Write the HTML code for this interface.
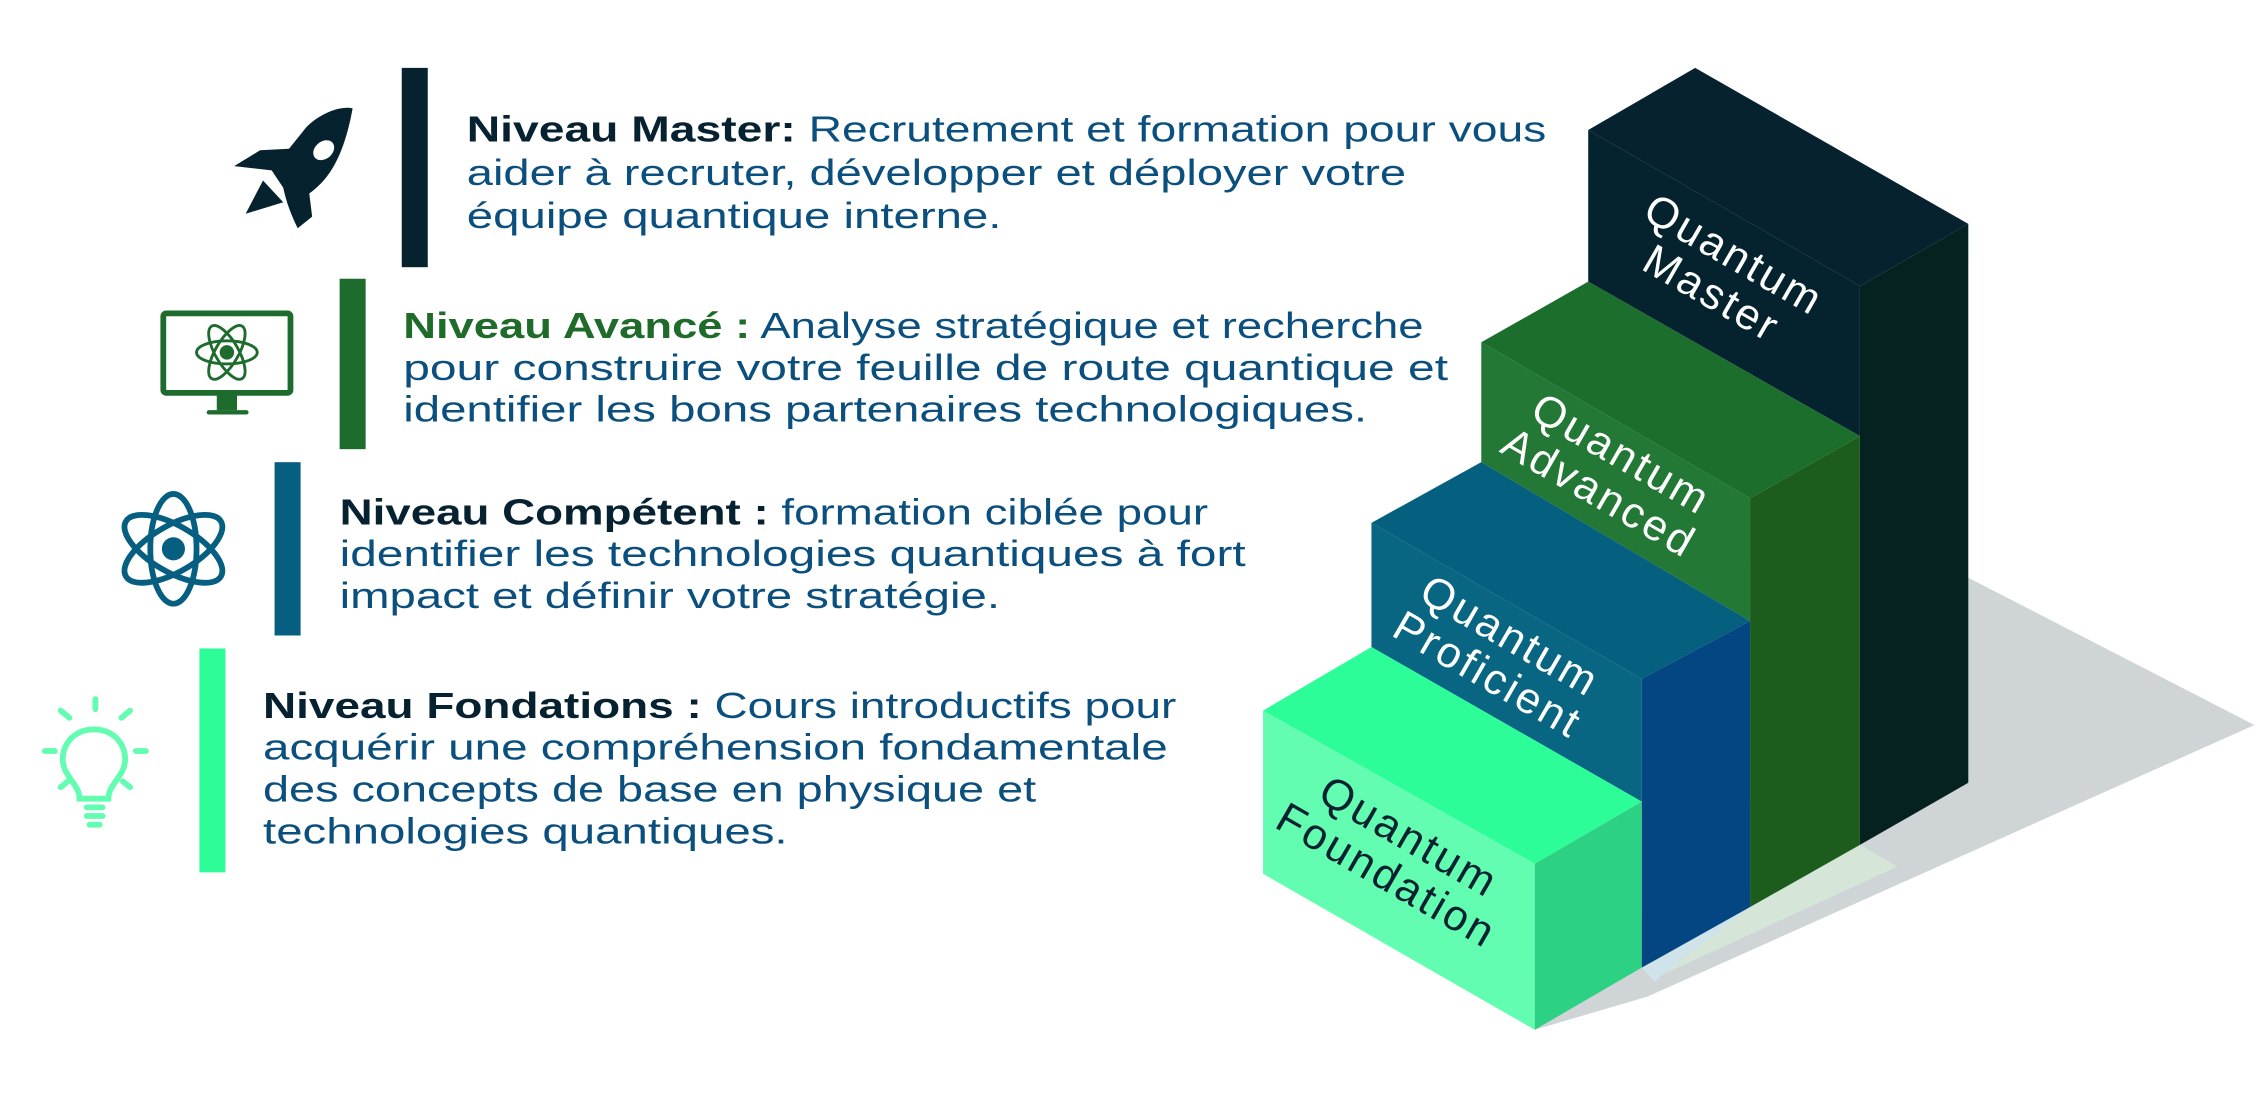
<!DOCTYPE html>
<html><head><meta charset="utf-8">
<style>
html,body{margin:0;padding:0;background:#fff;}
svg{display:block;}
text{font-family:"Liberation Sans",sans-serif;}
.b{fill:#0b4f7e;font-size:25px;}
.h{font-weight:bold;fill:#062230;}
.lbl{font-size:30px;letter-spacing:2px;}
</style></head>
<body>
<svg width="2266" height="1102" viewBox="0 0 1568 763" preserveAspectRatio="none" xmlns="http://www.w3.org/2000/svg">
<!-- shadow -->
<polygon points="1362,400 1560,502 1140,690 1062,713" fill="#cfd5d7"/>
<polygon points="1211,628 1287,585 1313,600 1150,675 1136,670" fill="#d5e6d8"/>
<polygon points="1136,670 1211,628 1150,675 1145,680" fill="#d0e2ea"/>

<!-- Master -->
<polygon points="1099,90 1173,47 1362,155 1287,198" fill="#06222f"/>
<polygon points="1099,90 1287,198 1287,302 1099,195" fill="#05232f"/>
<polygon points="1287,198 1362,155 1362,542 1287,585" fill="#062220"/>
<!-- Advanced -->
<polygon points="1025,237 1099,195 1287,302 1211,345" fill="#1c6e2c"/>
<polygon points="1025,237 1211,345 1211,430 1025,320" fill="#227834"/>
<polygon points="1211,345 1287,302 1287,585 1211,628" fill="#1c5c1c"/>
<!-- Proficient -->
<polygon points="949,362 1025,320 1211,430 1136,470" fill="#055f7e"/>
<polygon points="949,362 1136,470 1136,555 949,448" fill="#086682"/>
<polygon points="1136,470 1211,430 1211,628 1136,670" fill="#034682"/>
<!-- Foundation -->
<polygon points="874,492 949,448 1136,555 1062,598" fill="#2cfd98"/>
<polygon points="874,492 1062,598 1062,713 874,605" fill="#62fdb0"/>
<polygon points="1062,598 1136,555 1136,670 1062,713" fill="#2dd184"/>

<!-- block labels -->
<g class="lbl" fill="#fff" text-anchor="middle">
<g transform="translate(1195,185) rotate(30)"><text x="0" y="0">Quantum</text><text x="0" y="31">Master</text></g>
<g transform="translate(1117,323) rotate(30)"><text x="0" y="0">Quantum</text><text x="0" y="31">Advanced</text></g>
<g transform="translate(1040,449) rotate(30)"><text x="0" y="0">Quantum</text><text x="0" y="31">Proficient</text></g>
<g transform="translate(970,588) rotate(30)" fill="#062230"><text x="0" y="0">Quantum</text><text x="0" y="31">Foundation</text></g>
</g>

<!-- bars -->
<rect x="278" y="47" width="18" height="138" fill="#06222f"/>
<rect x="235" y="193" width="18" height="118" fill="#1e6b2e"/>
<rect x="190" y="320" width="18" height="120" fill="#065f80"/>
<rect x="138" y="449" width="18" height="155" fill="#2cfd98"/>

<!-- text -->
<text class="b" x="323" y="98" textLength="747" lengthAdjust="spacingAndGlyphs"><tspan class="h">Niveau Master:</tspan> Recrutement et formation pour vous</text>
<text class="b" x="323" y="128" textLength="650" lengthAdjust="spacingAndGlyphs">aider à recruter, développer et déployer votre</text>
<text class="b" x="323" y="158" textLength="370" lengthAdjust="spacingAndGlyphs">équipe quantique interne.</text>

<text class="b" x="279" y="234" textLength="706" lengthAdjust="spacingAndGlyphs"><tspan class="h" style="fill:#1e6b2a">Niveau Avancé :</tspan> Analyse stratégique et recherche</text>
<text class="b" x="279" y="263" textLength="723" lengthAdjust="spacingAndGlyphs">pour construire votre feuille de route quantique et</text>
<text class="b" x="279" y="292" textLength="667" lengthAdjust="spacingAndGlyphs">identifier les bons partenaires technologiques.</text>

<text class="b" x="235" y="363" textLength="601" lengthAdjust="spacingAndGlyphs"><tspan class="h">Niveau Compétent :</tspan> formation ciblée pour</text>
<text class="b" x="235" y="392" textLength="627" lengthAdjust="spacingAndGlyphs">identifier les technologies quantiques à fort</text>
<text class="b" x="235" y="421" textLength="457" lengthAdjust="spacingAndGlyphs">impact et définir votre stratégie.</text>

<text class="b" x="182" y="497" textLength="632" lengthAdjust="spacingAndGlyphs"><tspan class="h">Niveau Fondations :</tspan> Cours introductifs pour</text>
<text class="b" x="182" y="526" textLength="626" lengthAdjust="spacingAndGlyphs">acquérir une compréhension fondamentale</text>
<text class="b" x="182" y="555" textLength="535" lengthAdjust="spacingAndGlyphs">des concepts de base en physique et</text>
<text class="b" x="182" y="584" textLength="363" lengthAdjust="spacingAndGlyphs">technologies quantiques.</text>

<!-- rocket -->
<g fill="#06222f">
<path d="M244,75 C236,73 222,78 212,88 L200,103 L180,104 L162,115 L188,118 L196,130 C198,140 202,150 206,158 L216,150 L214,134 C228,124 238,108 244,75 Z"/>
<path d="M182,125 L170,148 L196,140 Z"/>
<ellipse cx="224" cy="104" rx="8" ry="6" fill="#fff" transform="rotate(-40 224 104)"/>
</g>
<!-- monitor -->
<g>
<rect x="113" y="217" width="88" height="55" rx="2" fill="none" stroke="#1e6b2e" stroke-width="4"/>
<rect x="150" y="272" width="14" height="12" fill="#1e6b2e"/>
<rect x="143" y="284" width="29" height="3" rx="1.5" fill="#1e6b2e"/>
<g fill="none" stroke="#1e6b2e" stroke-width="2" transform="translate(157,244)">
<ellipse rx="21" ry="8"/><ellipse rx="21" ry="8" transform="rotate(60)"/><ellipse rx="21" ry="8" transform="rotate(120)"/>
</g>
<circle cx="157" cy="244" r="5" fill="#1e6b2e"/>
</g>
<!-- atom -->
<g fill="none" stroke="#065f80" stroke-width="4" transform="translate(120,380)">
<ellipse rx="38" ry="16" transform="rotate(30)"/><ellipse rx="38" ry="16" transform="rotate(-30)"/><ellipse rx="38" ry="16" transform="rotate(90)"/>
</g>
<circle cx="120" cy="380" r="8" fill="#065f80"/>
<!-- bulb -->
<g stroke="#62fdb0" stroke-width="4" stroke-linecap="round" fill="none">
<path d="M55,553 C55,545 48,540 45,533 C40,522 47,505 65,505 C83,505 90,522 85,533 C82,540 75,545 75,553 Z"/>
<line x1="60" y1="559" x2="71" y2="559"/><line x1="60" y1="565" x2="71" y2="565"/><line x1="62" y1="571" x2="69" y2="571"/>
<line x1="66" y1="484" x2="66" y2="491"/>
<line x1="42" y1="492" x2="48" y2="497"/><line x1="90" y1="492" x2="84" y2="497"/>
<line x1="31" y1="520" x2="38" y2="520"/><line x1="94" y1="520" x2="101" y2="520"/>
<line x1="42" y1="545" x2="47" y2="541"/><line x1="90" y1="545" x2="85" y2="541"/>
</g>
</svg>
</body></html>
